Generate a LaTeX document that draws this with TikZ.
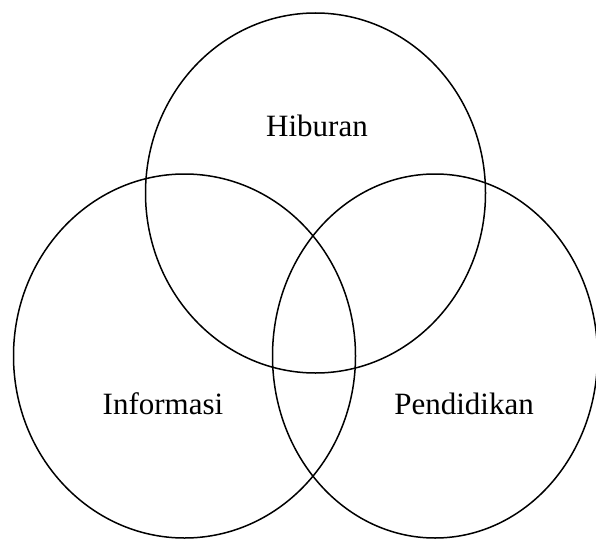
\documentclass[tikz,border=0pt]{standalone}
\usepackage{fontspec}
\setmainfont{Liberation Serif}
\usepackage{tikz}

\begin{document}
\begin{tikzpicture}[
    x=1pt,
    y=-1pt,
    set/.style={
        draw,
        line width=1.5pt
    },
    label/.style={
        anchor=base,
        inner sep=0pt,
        font=\fontsize{31}{37}\selectfont
    }
]

\useasboundingbox (0,0) rectangle (596,540);

\draw[set] (315.5,193) ellipse [x radius=170, y radius=180];
\draw[set] (184.5,356) ellipse [x radius=171, y radius=182];
\draw[set] (435,356) ellipse [x radius=162.5, y radius=182];

\node[label] (hiburan) at (317,137) {Hiburan};
\node[label] (informasi) at (163,414) {Informasi};
\node[label] (pendidikan) at (464,414) {Pendidikan};

\end{tikzpicture}
\end{document}
